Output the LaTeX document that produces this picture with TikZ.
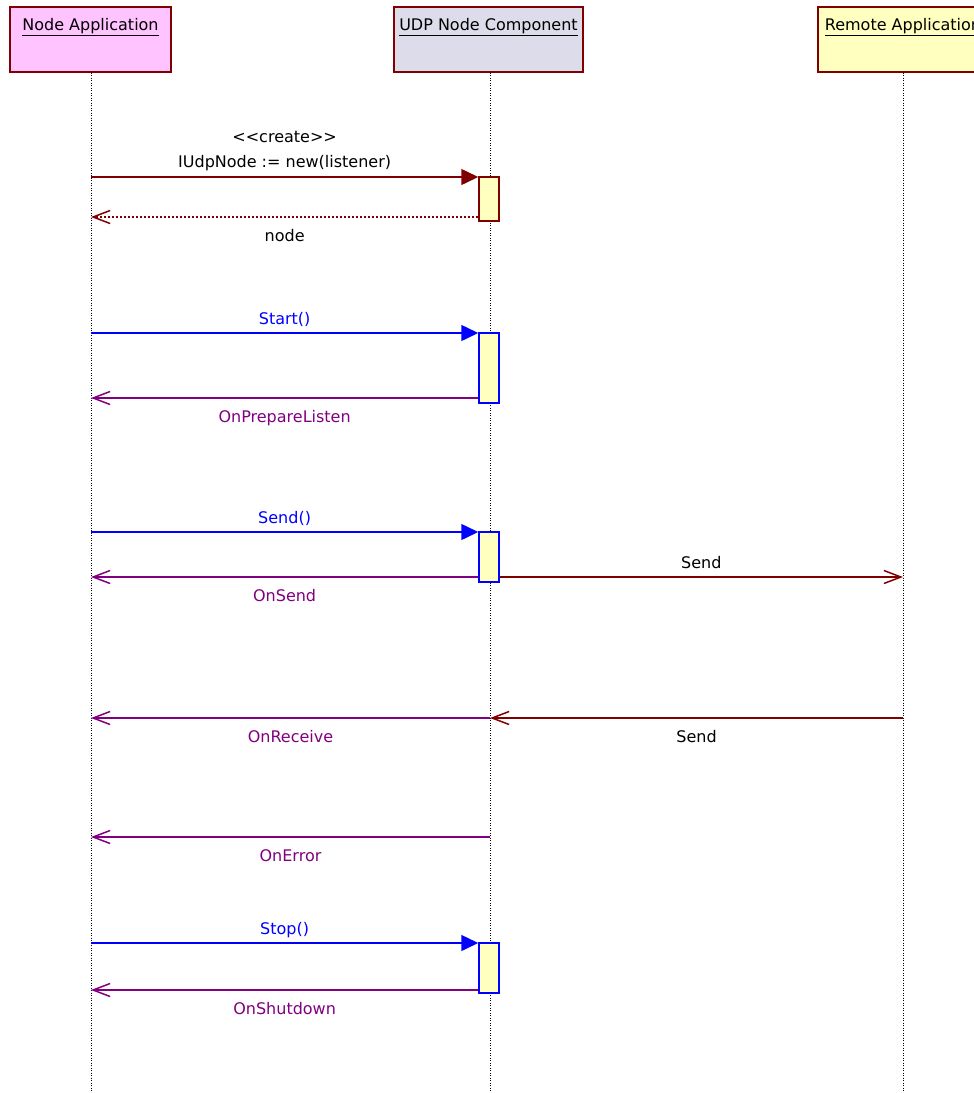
\documentclass[tikz,border=0pt]{standalone}
\usepackage{fontspec}
\setmainfont{DejaVu Sans}
\usetikzlibrary{arrows.meta}

\definecolor{umlred}{HTML}{800000}
\definecolor{umlblue}{HTML}{0000FF}
\definecolor{umlpurple}{HTML}{800080}
\definecolor{umlyellow}{HTML}{FFFFC0}
\definecolor{headpink}{HTML}{FFC4FF}
\definecolor{headgrey}{HTML}{DCDCEA}

\tikzset{
  head/.style={draw=umlred, line width=1.5pt, minimum width=#1, minimum height=65pt, inner sep=0pt},
  headtext/.style={anchor=north, yshift=-8.5pt},
  lifeline/.style={line width=1pt, dash pattern=on 1pt off 1.5pt},
  act/.style={fill=umlyellow, line width=1.5pt, minimum width=20pt, inner sep=0pt},
  call/.style={line width=1.5pt, -{Triangle[length=17pt,width=16pt]}},
  reply/.style={umlred, line width=1.5pt, dash pattern=on 2pt off 2pt, -{Straight Barb[length=17pt,width=13pt]}},
  event/.style={umlpurple, line width=1.5pt, -{Straight Barb[length=17pt,width=13pt]}},
  signal/.style={umlred, line width=1.5pt, -{Straight Barb[length=17pt,width=13pt]}},
  abovelbl/.style={midway, anchor=base, yshift=9pt},
  belowlbl/.style={midway, anchor=base, yshift=-24pt},
}

\begin{document}
\begin{tikzpicture}[x=1pt, y=-1pt, font=\fontsize{16}{19}\selectfont]
        \useasboundingbox (0,0) rectangle (974,1093);
        % heads
        \node[head=161pt, fill=headpink, label={[headtext]north:\underline{Node Application}}] (app) at (90.5,39.5) {};
        \node[head=189pt, fill=headgrey, label={[headtext]north:\underline{UDP Node Component}}] (udp) at (488.5,39.5) {};
        \node[head=170pt, fill=umlyellow, label={[headtext]north:\underline{Remote Application}}] (remote) at (903,39.5) {};
        \coordinate (append) at (91,1093);
        \coordinate (udpend) at (490,1093);
        \coordinate (remoteend) at (903,1093);
        \draw[lifeline] (app.south -| append) -- (append);
        \draw[lifeline] (udp.south -| udpend) -- (udpend);
        \draw[lifeline] (remote.south) -- (remoteend);
        % activations
        \node[act, draw=umlred, minimum height=44pt] (act1) at (489,199) {};
        \node[act, draw=umlblue, minimum height=70pt] (act2) at (489,368) {};
        \node[act, draw=umlblue, minimum height=50pt] (act3) at (489,557) {};
        \node[act, draw=umlblue, minimum height=50pt] (act4) at (489,968) {};
        % create
        \coordinate (m1) at (91,177);
        \coordinate (r1) at (91,217);
        \draw[call, umlred] (m1) -- (m1 -| act1.west)
          node[midway, anchor=south, align=center, text=black, yshift=2pt, font=\fontsize{16}{25}\selectfont] (l1) {<{}<create>{}>\\IUdpNode := new(listener)};
        \draw[reply] (act1.west |- r1) -- (r1) node[belowlbl, text=black] (l2) {node};
        % start
        \coordinate (m2) at (91,333);
        \coordinate (r2) at (91,398);
        \draw[call, umlblue] (m2) -- (m2 -| act2.west) node[abovelbl] (l3) {Start()};
        \draw[event] (act2.west |- r2) -- (r2) node[belowlbl] (l4) {OnPrepareListen};
        % send
        \coordinate (m3) at (91,532);
        \coordinate (r3) at (91,577);
        \coordinate (x1) at (903,577);
        \draw[call, umlblue] (m3) -- (m3 -| act3.west) node[abovelbl] (l5) {Send()};
        \draw[event] (act3.west |- r3) -- (r3) node[belowlbl] (l6) {OnSend};
        \draw[signal] (act3.east |- x1) -- (x1) node[abovelbl, text=black] (l7) {Send};
        % receive
        \coordinate (x2) at (903,718);
        \coordinate (u1) at (490,718);
        \coordinate (r4) at (91,718);
        \draw[signal] (x2) -- (u1) node[belowlbl, text=black] (l8) {Send};
        \draw[event] (u1) -- (r4) node[belowlbl] (l9) {OnReceive};
        % error
        \coordinate (u2) at (490,837);
        \coordinate (r5) at (91,837);
        \draw[event] (u2) -- (r5) node[belowlbl] (l10) {OnError};
        % stop
        \coordinate (m4) at (91,943);
        \coordinate (r6) at (91,990);
        \draw[call, umlblue] (m4) -- (m4 -| act4.west) node[abovelbl] (l11) {Stop()};
        \draw[event] (act4.west |- r6) -- (r6) node[belowlbl] (l12) {OnShutdown};
\end{tikzpicture}
\end{document}
